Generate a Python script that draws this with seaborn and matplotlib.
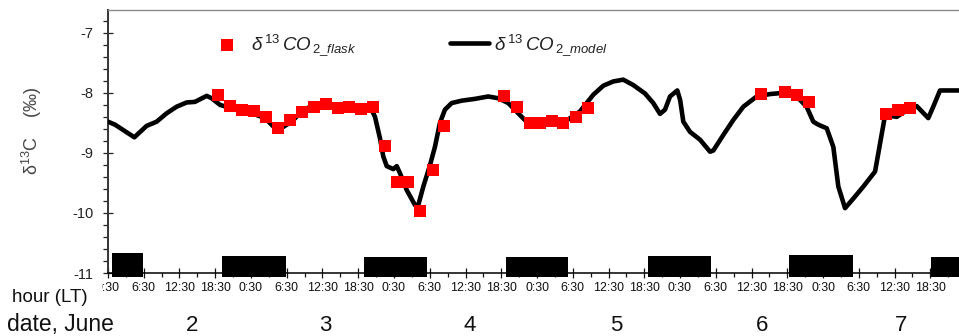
import numpy as np
import pandas as pd
import matplotlib
matplotlib.use("Agg")
import matplotlib.pyplot as plt
from matplotlib.ticker import FixedLocator, MultipleLocator
from matplotlib.transforms import Bbox
import seaborn as sns

# ---------------- data (day of June, decimal) ----------------
model_day = [2.021, 2.070, 2.205, 2.291, 2.361, 2.431, 2.501, 2.571, 2.629, 2.711,
             2.746, 2.804, 2.886, 3.026, 3.119, 3.177, 3.224, 3.305, 3.375, 3.456,
             3.538, 3.631, 3.748, 3.860, 3.888, 3.923, 3.946, 3.970, 4.016, 4.040,
             4.063, 4.110, 4.168, 4.187, 4.226, 4.273, 4.307, 4.342, 4.377, 4.424,
             4.494, 4.587, 4.680, 4.750, 4.820, 4.914, 4.948, 5.053, 5.193, 5.228,
             5.321, 5.415, 5.485, 5.554, 5.624, 5.694, 5.776, 5.834, 5.881, 5.916,
             5.951, 6.002, 6.022, 6.044, 6.091, 6.161, 6.231, 6.254, 6.324, 6.394,
             6.464, 6.557, 6.650, 6.743, 6.837, 6.906, 6.953, 6.988, 7.047, 7.093,
             7.128, 7.175, 7.233, 7.303, 7.385, 7.420, 7.455, 7.536, 7.594, 7.676,
             7.757, 7.792, 7.839, 7.972, 8.020]
model_d13c = [-8.48, -8.53, -8.74, -8.55, -8.48, -8.34, -8.23, -8.16, -8.15, -8.05,
              -8.09, -8.20, -8.26, -8.34, -8.42, -8.56, -8.60, -8.48, -8.31, -8.20,
              -8.17, -8.23, -8.24, -8.26, -8.40, -8.76, -9.06, -9.22, -9.27, -9.22,
              -9.34, -9.62, -9.87, -9.90, -9.56, -9.20, -8.90, -8.50, -8.28, -8.17,
              -8.13, -8.10, -8.06, -8.09, -8.17, -8.40, -8.48, -8.49, -8.48, -8.46,
              -8.31, -8.03, -7.88, -7.81, -7.78, -7.87, -8.01, -8.17, -8.35, -8.28,
              -8.06, -7.96, -8.12, -8.48, -8.65, -8.78, -8.98, -8.96, -8.70, -8.45,
              -8.23, -8.06, -8.02, -8.00, -8.06, -8.23, -8.48, -8.53, -8.59, -8.90,
              -9.56, -9.92, -9.76, -9.56, -9.31, -8.84, -8.37, -8.40, -8.31, -8.22,
              -8.42, -8.23, -7.96, -7.96, -7.96]

flask_day = [2.792, 2.874, 2.956, 3.044, 3.124, 3.212, 3.294, 3.374, 3.461, 3.545,
             3.627, 3.709, 3.790, 3.876, 3.955, 4.040, 4.121, 4.206, 4.292, 4.373,
             4.790, 4.879, 4.972, 5.042, 5.124, 5.205, 5.294, 5.375,
             6.587, 6.755, 6.837, 6.923, 7.461, 7.547, 7.629]
flask_d13c = [-8.04, -8.22, -8.28, -8.31, -8.41, -8.59, -8.45, -8.32, -8.23, -8.19,
              -8.25, -8.24, -8.27, -8.24, -8.88, -9.49, -9.49, -9.96, -9.28, -8.55,
              -8.05, -8.24, -8.50, -8.51, -8.47, -8.50, -8.40, -8.26,
              -8.02, -7.98, -8.03, -8.15, -8.36, -8.28, -8.26]

night_start = [2.046, 2.816, 3.811, 4.804, 5.795, 6.785, 7.776]
night_end = [2.264, 3.266, 4.252, 5.235, 6.238, 7.228, 8.100]
night_top = [-10.67, -10.72, -10.73, -10.73, -10.72, -10.70, -10.73]
night_bottom = -11.07

hour_labels = ["0:30", "6:30", "12:30", "18:30"]
date_labels = ["2", "3", "4", "5", "6", "7"]
date_pos = [2.608, 3.538, 4.552, 5.573, 6.594, 7.566]

flask_label = r"$δ^{\,13}\,CO_{\,2\_flask}$"
model_label = r"$δ^{\,13}\,CO_{\,2\_model}$"

# ---------------- style ----------------
sns.set_style("ticks")
plt.rcParams["font.family"] = ["Liberation Sans", "DejaVu Sans"]
plt.rcParams["mathtext.fontset"] = "custom"
plt.rcParams["mathtext.it"] = "Liberation Sans:italic"
plt.rcParams["mathtext.rm"] = "Liberation Sans"
plt.rcParams["mathtext.default"] = "it"

W, H = 959, 336
fig = plt.figure(figsize=(W / 100, H / 100), dpi=100)
ax = fig.add_axes([108 / W, 63 / H, 858 / W, 263 / H])

df_model = pd.DataFrame({"day": model_day, "d13c": model_d13c})
df_flask = pd.DataFrame({"day": flask_day, "d13c": flask_d13c})

sns.lineplot(data=df_model, x="day", y="d13c", color="black", linewidth=3.3,
             sort=False, estimator=None, label=model_label, ax=ax, zorder=3)
sns.scatterplot(data=df_flask, x="day", y="d13c", marker="s", s=72, color="#ff0000",
                linewidth=0, label=flask_label, ax=ax, zorder=4)

heights = [t - night_bottom for t in night_top]
widths = [e - s for s, e in zip(night_start, night_end)]
ax.bar(night_start, heights, width=widths, bottom=night_bottom, align="edge",
       color="black", linewidth=0, clip_on=False, zorder=3)

x0 = 2 + 0.5 / 24
ax.set_xlim(x0, x0 + 6)
ax.set_ylim(-11, -6.62)

# ticks (last 0:30 tick lies beyond the cropped right edge)
major_x = np.arange(x0, x0 + 5.9, 0.25)
minor_x = major_x + 0.125
ax.xaxis.set_major_locator(FixedLocator(major_x))
ax.xaxis.set_minor_locator(FixedLocator(minor_x))
ax.set_xticklabels([hour_labels[i % 4] for i in range(len(major_x))])
ax.yaxis.set_minor_locator(MultipleLocator(0.2))
ax.set_yticks([-11, -10, -9, -8, -7])
ax.set_yticklabels(["-11", "-10", "-9", "-8", "-7"])

ax.tick_params(axis="y", which="major", direction="inout", length=7.2, width=0.9,
               pad=7, labelsize=10.5, colors="#222222")
ax.tick_params(axis="y", which="minor", direction="out", length=3.6, width=0.9,
               colors="#222222")
ax.tick_params(axis="x", which="major", direction="inout", length=6.5, width=0.9,
               pad=3, labelsize=8.9, colors="#111111")
ax.tick_params(axis="x", which="minor", direction="out", length=3.0, width=0.9,
               colors="#111111")

ax.spines["right"].set_visible(False)
ax.spines["top"].set_color("#8a8a8a")
ax.spines["top"].set_linewidth(1.0)
ax.spines["left"].set_color("#333333")
ax.spines["left"].set_linewidth(1.4)
ax.spines["bottom"].set_color("#000000")
ax.spines["bottom"].set_linewidth(1.1)

ax.set_xlabel("")
ax.set_ylabel("δ$\\mathrm{^{13}}$C    (‰)", fontsize=13, color="#444444")
ax.yaxis.set_label_coords(-0.075, 0.54)

# clip first hour label like reference
clip = Bbox.from_extents(102, 0, W, H)
fig.canvas.draw()
lbls = ax.get_xticklabels()
if lbls:
    lbls[0].set_clip_box(clip)
    lbls[0].set_clip_on(True)

# legend (flask first, then model)
hs, ls = ax.get_legend_handles_labels()
order = [ls.index(flask_label), ls.index(model_label)]
leg = ax.legend([hs[i] for i in order], [ls[i] for i in order],
                loc="center left", bbox_to_anchor=((207 - 108) / 858, (273 - 45) / 263),
                ncol=2, frameon=False, fontsize=13.5, handlelength=2.1,
                handletextpad=0.25, columnspacing=5.0, borderpad=0, borderaxespad=0)
for t in leg.get_texts():
    t.set_color("#222222")

# date labels
for lab, pos in zip(date_labels, date_pos):
    ax.text(pos, -0.198, lab, transform=ax.get_xaxis_transform(), ha="center",
            va="center", fontsize=16, color="#111111")

fig.text(12 / W, 1 - 297.5 / H, "hour (LT)", ha="left", va="center", fontsize=13.5,
         color="#111111")
fig.text(7 / W, 1 - 325 / H, "date, June", ha="left", va="center", fontsize=16.5,
         color="#111111")

fig.savefig("out.png", dpi=100)
